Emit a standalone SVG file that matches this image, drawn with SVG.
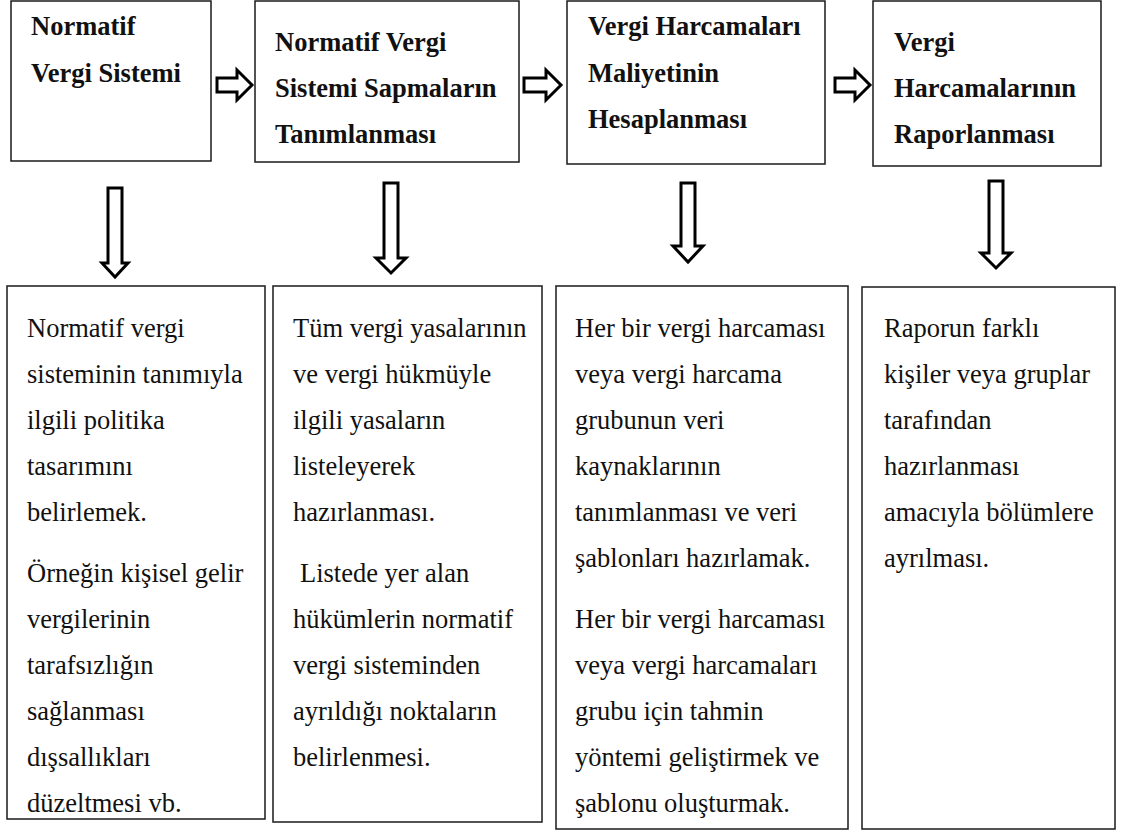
<svg xmlns="http://www.w3.org/2000/svg" width="1122" height="834" viewBox="0 0 1122 834">
<style>
.box{fill:#fff;stroke:#1a1a1a;stroke-width:1.5}
.t{font-weight:bold;font-size:26.5px;fill:#111}
.b{font-size:26.5px;fill:#111}
.arr{fill:#fff;stroke:#000;stroke-width:3;stroke-linejoin:miter}
</style>
<rect width="1122" height="834" fill="#fff"/>
<g font-family="Liberation Serif, DejaVu Serif, Times New Roman, serif">
<g id="top1"><rect class="box" x="11" y="1" width="200" height="160"/>
<text class="t" x="31" y="35">Normatif</text><text class="t" x="31" y="82">Vergi Sistemi</text></g>
<g id="top2"><rect class="box" x="255" y="1" width="264" height="161"/>
<text class="t" x="275" y="51">Normatif Vergi</text><text class="t" x="275" y="97">Sistemi Sapmaların</text><text class="t" x="275" y="143">Tanımlanması</text></g>
<g id="top3"><rect class="box" x="567" y="1" width="258" height="163"/>
<text class="t" x="588" y="35">Vergi Harcamaları</text><text class="t" x="588" y="82">Maliyetinin</text><text class="t" x="588" y="128">Hesaplanması</text></g>
<g id="top4"><rect class="box" x="873" y="1" width="228" height="165"/>
<text class="t" x="894" y="51">Vergi</text><text class="t" x="894" y="97">Harcamalarının</text><text class="t" x="894" y="143">Raporlanması</text></g>
<g id="bot1"><rect class="box" x="7" y="286" width="258" height="533"/>
<text class="b" x="27" y="337">Normatif vergi</text><text class="b" x="27" y="383">sisteminin tanımıyla</text><text class="b" x="27" y="429">ilgili politika</text><text class="b" x="27" y="475">tasarımını</text><text class="b" x="27" y="521">belirlemek.</text>
<text class="b" x="27" y="582">Örneğin kişisel gelir</text><text class="b" x="27" y="628">vergilerinin</text><text class="b" x="27" y="674">tarafsızlığın</text><text class="b" x="27" y="720">sağlanması</text><text class="b" x="27" y="766">dışsallıkları</text><text class="b" x="27" y="812">düzeltmesi vb.</text></g>
<g id="bot2"><rect class="box" x="273" y="286" width="269" height="536"/>
<text class="b" x="293" y="337">Tüm vergi yasalarının</text><text class="b" x="293" y="383">ve vergi hükmüyle</text><text class="b" x="293" y="429">ilgili yasaların</text><text class="b" x="293" y="475">listeleyerek</text><text class="b" x="293" y="521">hazırlanması.</text>
<text class="b" x="300" y="582">Listede yer alan</text><text class="b" x="293" y="628">hükümlerin normatif</text><text class="b" x="293" y="674">vergi sisteminden</text><text class="b" x="293" y="720">ayrıldığı noktaların</text><text class="b" x="293" y="766">belirlenmesi.</text></g>
<g id="bot3"><rect class="box" x="556" y="286" width="292" height="543"/>
<text class="b" x="575" y="337">Her bir vergi harcaması</text><text class="b" x="575" y="383">veya vergi harcama</text><text class="b" x="575" y="429">grubunun veri</text><text class="b" x="575" y="475">kaynaklarının</text><text class="b" x="575" y="521">tanımlanması ve veri</text><text class="b" x="575" y="567">şablonları hazırlamak.</text>
<text class="b" x="575" y="628">Her bir vergi harcaması</text><text class="b" x="575" y="674">veya vergi harcamaları</text><text class="b" x="575" y="720">grubu için tahmin</text><text class="b" x="575" y="766">yöntemi geliştirmek ve</text><text class="b" x="575" y="812">şablonu oluşturmak.</text></g>
<g id="bot4"><rect class="box" x="862" y="287" width="253" height="542"/>
<text class="b" x="884" y="337">Raporun farklı</text><text class="b" x="884" y="383">kişiler veya gruplar</text><text class="b" x="884" y="429">tarafından</text><text class="b" x="884" y="475">hazırlanması</text><text class="b" x="884" y="521">amacıyla bölümlere</text><text class="b" x="884" y="567">ayrılması.</text></g>
</g>
<g id="connectors">
<path class="arr" d="M217,78 H237 V70 L252,85 L237,100 V92 H217 Z"/>
<path class="arr" d="M524,78 H546 V70 L561,85 L546,100 V92 H524 Z"/>
<path class="arr" d="M835,78 H855 V70 L870,85 L855,100 V92 H835 Z"/>
<path class="arr" d="M108,188 H122 V263 H128 L115,277 L102,263 H108 Z"/>
<path class="arr" d="M384,183 H398 V258 H406 L391,273 L376,258 H384 Z"/>
<path class="arr" d="M681,183 H695 V246 H703 L688,262 L673,246 H681 Z"/>
<path class="arr" d="M989,181 H1003 V253 H1011 L996,268 L981,253 H989 Z"/>
</g>
</svg>
